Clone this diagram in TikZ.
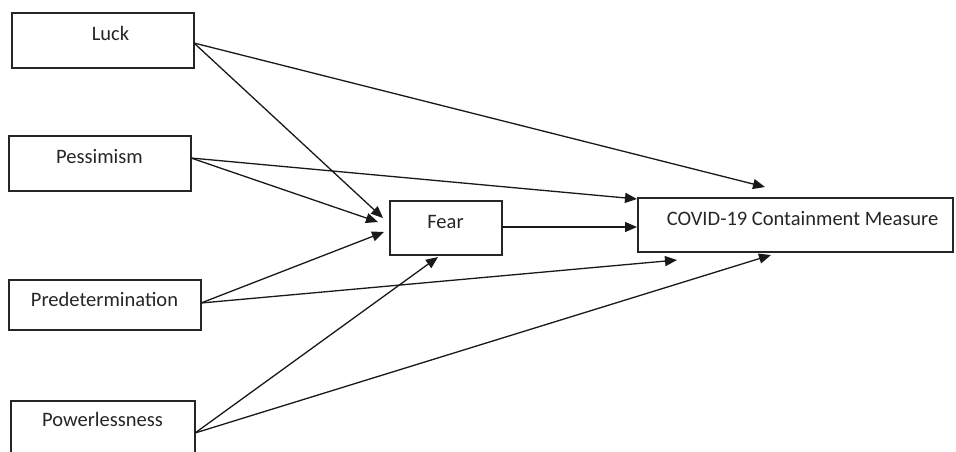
\documentclass[tikz,border=0pt]{standalone}
\usepackage{fontspec}
\setmainfont{Carlito}
\usetikzlibrary{arrows.meta}
\begin{document}
\begin{tikzpicture}[x=1pt,y=-1pt,
  boxshape/.style={draw=black!85,line width=1.4pt},
  lbl/.style={anchor=base,inner sep=0pt,font=\fontsize{20.5}{24}\selectfont,text=black!85},
  conn/.style={draw=black!90,line width=1.3pt,-{Triangle[length=12pt,width=10pt]}}]
\useasboundingbox (0,0) rectangle (956,451);
\clip (0,0) rectangle (956,451);
\fill[white] (0,0) rectangle (956,451);
% boxes
\node[boxshape,minimum width=182pt,minimum height=55pt,inner sep=0pt] (luck) at (103,40.5) {};
\node[boxshape,minimum width=182pt,minimum height=55pt,inner sep=0pt] (pess) at (100,163.5) {};
\node[boxshape,minimum width=192pt,minimum height=50pt,inner sep=0pt] (pred) at (105,305) {};
\node[boxshape,minimum width=184pt,minimum height=69pt,inner sep=0pt] (powl) at (103,435.5) {};
\node[boxshape,minimum width=112pt,minimum height=54pt,inner sep=0pt] (fear) at (446,228) {};
\node[boxshape,minimum width=315pt,minimum height=54pt,inner sep=0pt] (covid) at (795.5,225) {};
% labels
\node[lbl] (luckt) at (110.5,40.7) {Luck};
\node[lbl] (pesst) at (99.5,163) {Pessimism};
\node[lbl] (predt) at (104.5,306.7) {Predetermination};
\node[lbl] (powlt) at (102.5,426.7) {Powerlessness};
\node[lbl] (feart) at (445.5,228) {Fear};
\node[lbl] (covidt) at (802.5,225) {COVID-19 Containment Measure};
% connector end points
\coordinate (luckout) at (194,43);
\coordinate (pessout) at (191,158);
\coordinate (predout) at (201,303);
\coordinate (powlout) at (195,433);
\coordinate (fearout) at (502,227);
\coordinate (fin1) at (383,218);
\coordinate (fin2) at (378,222);
\coordinate (fin3) at (384,232);
\coordinate (fin4) at (438,257);
\coordinate (cin1) at (765,187);
\coordinate (cin2) at (637,199);
\coordinate (cin3) at (637,227);
\coordinate (cin4) at (677,260);
\coordinate (cin5) at (771,255);
% connectors
\draw[conn] (luckout) -- (fin1);
\draw[conn] (luckout) -- (cin1);
\draw[conn] (pessout) -- (fin2);
\draw[conn] (pessout) -- (cin2);
\draw[conn] (fearout) -- (cin3);
\draw[conn] (predout) -- (fin3);
\draw[conn] (predout) -- (cin4);
\draw[conn] (powlout) -- (fin4);
\draw[conn] (powlout) -- (cin5);
\end{tikzpicture}
\end{document}
